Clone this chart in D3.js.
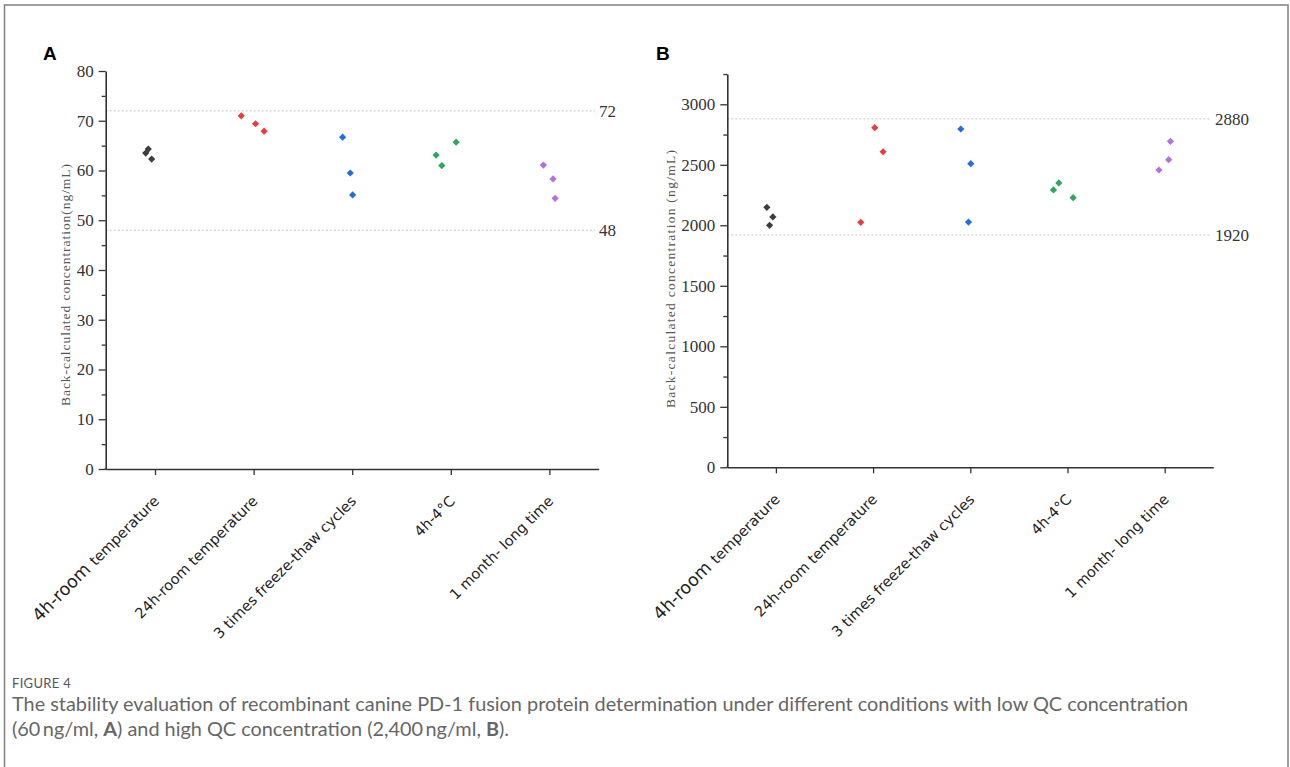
<!DOCTYPE html>
<html><head><meta charset="utf-8">
<script src="https://cdn.jsdelivr.net/npm/d3@7"></script>
<style>html,body{margin:0;padding:0;background:#fff;}svg{display:block;}</style>
</head><body>
<svg id="chart" width="1290" height="767"></svg>
<script>
// ---------- DATA ----------
const categories = ["4h-room temperature", "24h-room temperature", "3 times freeze-thaw cycles", "4h-4°C", "1 month- long time"];
const seriesColors = ["#3d3d3d", "#ef3a3d", "#1d6fe3", "#2ca75f", "#b56fe4"];

// Panel A: low QC (60 ng/ml) – three replicates per condition
const lowValues = [[63.5, 64.3, 62.3], [71.0, 69.4, 67.9], [66.7, 59.5, 55.1], [63.1, 61.0, 65.7], [61.1, 58.3, 54.4]];
const lowJitter = [[-0.094, -0.068, -0.034], [-0.125, 0.02, 0.106], [-0.097, -0.02, 0.004], [-0.149, -0.091, 0.054], [-0.061, 0.037, 0.058]];
const lowLimits = [72, 48];
const lowTicks = [0, 10, 20, 30, 40, 50, 60, 70, 80];

// Panel B: high QC (2400 ng/ml)
const highValues = [[2149, 2069, 2000], [2807, 2608, 2025], [2796, 2509, 2027], [2292, 2350, 2228], [2457, 2542, 2694]];
const highJitter = [[-0.093, -0.031, -0.065], [0.017, 0.103, -0.127], [-0.098, 0.005, -0.019], [-0.144, -0.089, 0.058], [-0.059, 0.041, 0.059]];
const highLimits = [2880, 1920];
const highTicks = [0, 500, 1000, 1500, 2000, 2500, 3000];

const yTitleA = "Back-calculated concentration(ng/mL)";
const yTitleB = "Back-calculated concentration (ng/mL)";
const captionHead = "FIGURE 4";
const captionLine1 = "The stability evaluation of recombinant canine PD-1 fusion protein determination under different conditions with low QC concentration";

// ---------- DRAW ----------
const svg = d3.select("#chart");

// outer frame
svg.append("rect").attr("x", 4.5).attr("y", 5).attr("width", 1283.5).attr("height", 820)
  .attr("fill", "none").attr("stroke", "#808080").attr("stroke-width", 1.5);

function panel(cfg) {
  const g = svg.append("g");
  const x = d3.scaleLinear().domain([0.5, 5.5]).range([cfg.x0, cfg.x1]);
  const y = d3.scaleLinear().domain([0, cfg.yMax]).range([cfg.yBottom, cfg.yTop]);

  // reference (dashed) lines
  cfg.limits.forEach(v => {
    g.append("line").attr("x1", cfg.x0).attr("x2", cfg.dashEnd)
      .attr("y1", y(v)).attr("y2", y(v))
      .attr("stroke", "#c4c4c4").attr("stroke-width", 1).attr("stroke-dasharray", "2,2");
    g.append("text").attr("x", cfg.dashEnd + 4).attr("y", y(v)).attr("dy", "0.35em")
      .attr("font-family", "Liberation Serif, serif").attr("font-size", 17).attr("fill", "#333")
      .text(v);
  });

  // minor y ticks
  g.append("g").attr("transform", `translate(${cfg.x0},0)`)
    .call(d3.axisLeft(y).tickValues(cfg.minor).tickSize(4).tickFormat(""))
    .call(s => s.select(".domain").remove())
    .call(s => s.selectAll("line").attr("stroke", "#333").attr("stroke-width", 1.3));
  // major y axis
  const ya = g.append("g").attr("transform", `translate(${cfg.x0},0)`)
    .call(d3.axisLeft(y).tickValues(cfg.ticks).tickSize(7).tickSizeOuter(0).tickPadding(5).tickFormat(d3.format("d")));
  ya.select(".domain").attr("stroke", "#333").attr("stroke-width", 1.6);
  ya.selectAll("line").attr("stroke", "#333").attr("stroke-width", 1.3);
  ya.selectAll("text").attr("font-family", "Liberation Serif, serif").attr("font-size", 17).attr("fill", "#333");

  // x axis
  const xa = g.append("g").attr("transform", `translate(0,${cfg.yBottom})`)
    .call(d3.axisBottom(x).tickValues([1, 2, 3, 4, 5]).tickSize(6).tickSizeOuter(0).tickFormat(""));
  xa.select(".domain").attr("stroke", "#333").attr("stroke-width", 1.6);
  xa.selectAll("line").attr("stroke", "#333").attr("stroke-width", 1.3);
  xa.append("line").attr("x1", cfg.x0 - 1).attr("x2", cfg.x0).attr("stroke", "#333").attr("stroke-width", 1.6);

  // rotated category labels
  categories.forEach((c, i) => {
    const t = g.append("text")
      .attr("transform", `translate(${x(i + 1) + 5},${cfg.yBottom + 33}) rotate(-45)`)
      .attr("text-anchor", "end")
      .attr("font-family", "DejaVu Sans, sans-serif").attr("font-size", 14.5).attr("fill", "#222");
    if (i === 0) {
      const parts = c.split(" ");
      t.append("tspan").attr("font-size", 17.5).text(parts[0] + " ");
      t.append("tspan").text(parts.slice(1).join(" "));
    } else {
      t.text(c);
    }
  });

  // y title
  g.append("text")
    .attr("transform", `translate(${cfg.titleX},${cfg.titleY}) rotate(-90)`)
    .attr("text-anchor", "middle").attr("dy", "0.35em")
    .attr("font-family", "Liberation Serif, serif").attr("font-size", 13.5).attr("fill", "#555")
    .attr("textLength", cfg.titleLen).attr("lengthAdjust", "spacing")
    .text(cfg.title);

  // points
  const pts = [];
  cfg.values.forEach((arr, i) => arr.forEach((v, j) => pts.push({ xv: i + 1 + cfg.jitter[i][j], v, c: seriesColors[i] })));
  g.selectAll("path.pt").data(pts).join("path").attr("class", "pt")
    .attr("d", d3.symbol(d3.symbolSquare, 26))
    .attr("transform", d => `translate(${x(d.xv)},${y(d.v)}) rotate(45)`)
    .attr("fill", d => d.c);

  // panel letter
  g.append("text").attr("x", cfg.letterX).attr("y", 60)
    .attr("font-family", "Liberation Sans, Arial, sans-serif").attr("font-weight", "bold")
    .attr("font-size", 19).attr("fill", "#000").text(cfg.letter);
}

panel({
  letter: "A", letterX: 43,
  x0: 105.7, x1: 598.7, dashEnd: 595, yBottom: 469, yTop: 71, yMax: 80,
  ticks: lowTicks, minor: d3.range(5, 80, 10), limits: lowLimits,
  values: lowValues, jitter: lowJitter,
  title: yTitleA, titleX: 65, titleY: 285, titleLen: 242
});
panel({
  letter: "B", letterX: 656,
  x0: 727.3, x1: 1213.3, dashEnd: 1211, yBottom: 467.3, yTop: 74.05, yMax: 3250,
  ticks: highTicks, minor: d3.range(250, 3300, 500), limits: highLimits,
  values: highValues, jitter: highJitter,
  title: yTitleB, titleX: 670, titleY: 279, titleLen: 258
});

// caption
svg.append("text").attr("x", 12).attr("y", 688)
  .attr("font-family", "Lato, Open Sans, sans-serif").attr("font-size", 13).attr("fill", "#555")
  .attr("letter-spacing", 0.3).text(captionHead);
const cap1 = svg.append("text").attr("x", 12).attr("y", 711)
  .attr("font-family", "Lato, Open Sans, sans-serif").attr("font-size", 17).attr("fill", "#666")
  .text(captionLine1);
const len = cap1.node().getComputedTextLength();
const fs = 17 * 1177 / len;
cap1.attr("font-size", fs);
const cap2 = svg.append("text").attr("x", 12).attr("y", 736)
  .attr("font-family", "Lato, Open Sans, sans-serif").attr("font-size", fs).attr("fill", "#666");
cap2.append("tspan").text("(60\u2009ng/ml, ");
cap2.append("tspan").attr("font-weight", "bold").text("A");
cap2.append("tspan").text(") and high QC concentration (2,400\u2009ng/ml, ");
cap2.append("tspan").attr("font-weight", "bold").text("B");
cap2.append("tspan").text(").");
</script>
</body></html>
